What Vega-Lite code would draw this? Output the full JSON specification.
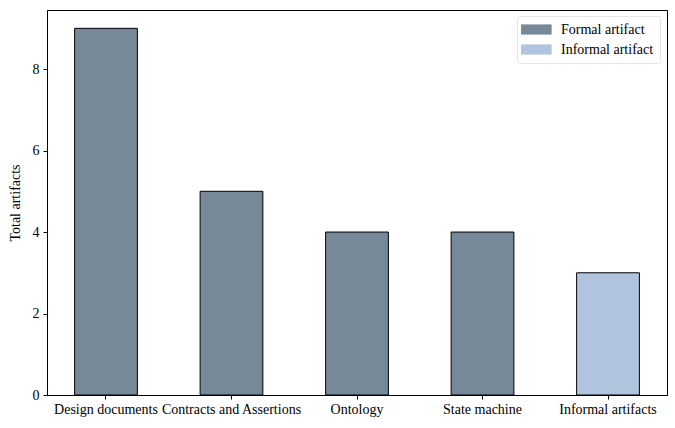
{
  "$schema": "https://vega.github.io/schema/vega-lite/v6.json",
  "autosize": {"type": "none"},
  "padding": {"left": 47, "top": 10, "right": 8, "bottom": 33},
  "width": 620,
  "height": 385,
  "background": "white",
  "config": {
    "font": "Liberation Serif",
    "view": {"stroke": "black", "strokeWidth": 1},
    "axis": {"grid": false, "domainColor": "black", "tickColor": "black", "labelColor": "black", "titleColor": "black", "labelFont": "Liberation Serif", "titleFont": "Liberation Serif", "labelFontSize": 14, "titleFontSize": 14, "titleFontWeight": "normal", "tickSize": 4}
  },
  "data": {
    "values": [
      {"category": "Design documents", "count": 9, "type": "Formal artifact"},
      {"category": "Contracts and Assertions", "count": 5, "type": "Formal artifact"},
      {"category": "Ontology", "count": 4, "type": "Formal artifact"},
      {"category": "State machine", "count": 4, "type": "Formal artifact"},
      {"category": "Informal artifacts", "count": 3, "type": "Informal artifact"}
    ]
  },
  "mark": {"type": "bar", "stroke": "black", "strokeWidth": 1, "opacity": 1},
  "encoding": {
    "x": {
      "field": "category", "type": "nominal", "sort": null, "title": null,
      "scale": {"paddingInner": 0.5, "paddingOuter": 0.22},
      "axis": {"labelAngle": 0, "labelPadding": 3}
    },
    "y": {
      "field": "count", "type": "quantitative", "title": "Total artifacts",
      "scale": {"domain": [0, 9.45], "nice": false},
      "axis": {"values": [0, 2, 4, 6, 8], "titlePadding": 10, "labelPadding": 4}
    },
    "color": {
      "field": "type", "type": "nominal", "title": null,
      "scale": {"domain": ["Formal artifact", "Informal artifact"], "range": ["#778899", "#b0c4de"]},
      "legend": {
        "orient": "none", "legendX": 470, "legendY": 6,
        "fillColor": "white", "strokeColor": "#e6e6e6", "padding": 6, "cornerRadius": 2,
        "symbolType": "M-1.3,-0.7H2.9V0.7H-1.3Z", "symbolSize": 212, "symbolStrokeWidth": 0,
        "labelFont": "Liberation Serif", "labelFontSize": 14, "labelColor": "black",
        "rowPadding": 5, "labelOffset": 23
      }
    }
  }
}
